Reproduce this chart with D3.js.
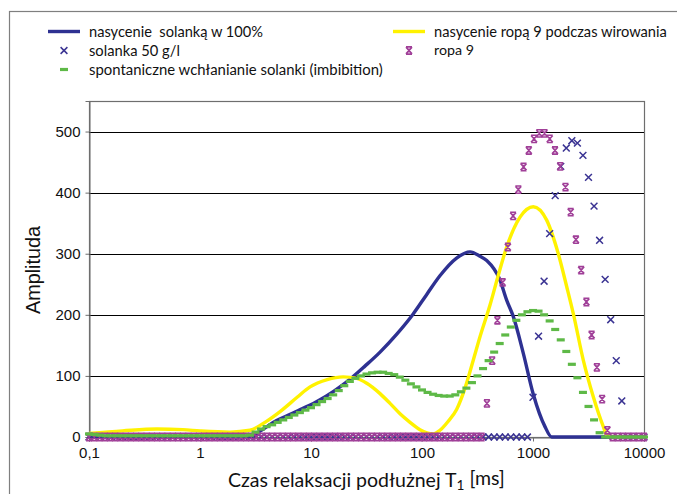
<!DOCTYPE html>
<html>
<head>
<meta charset="utf-8">
<script src="https://cdn.jsdelivr.net/npm/d3@7/dist/d3.min.js"></script>
<style>
  html, body { margin: 0; padding: 0; background: #fff; }
  svg { display: block; }
</style>
</head>
<body>
<svg id="chart" width="677" height="494"></svg>
<script>
// ---- Data -------------------------------------------------------------
// T1 relaxation-time sampling grids (ms): log-spaced inversion grids
const gridRange = [0.1, 10000];
const gridSizeA = 101;   // 20 points per decade (solanka, imbibition)
const gridSizeB = 107;   // ropa 9 grid

// solanka 50 g/l, amplitudes on grid A
const solanka50 = [
  0,0,0,0,0,0,0,0,0,0, 0,0,0,0,0,0,0,0,0,0,
  0,0,0,0,0,0,0,0,0,0, 0,0,0,0,0,0,0,0,0,0,
  0,0,0,0,0,0,0,0,0,0, 0,0,0,0,0,0,0,0,0,0,
  0,0,0,0,0,0,0,0,0,0, 0,0,0,0,0,0,0,0,0,0,
  65,165,255,333,395,443,473,485,481,461,
  425,378,322,258,192,125,59,0,0,0,0
];

// ropa 9, amplitudes on grid B
const ropa9 = [
  0,0,0,0,0,0,0,0,0,0, 0,0,0,0,0,0,0,0,0,0,
  0,0,0,0,0,0,0,0,0,0, 0,0,0,0,0,0,0,0,0,0,
  0,0,0,0,0,0,0,0,0,0, 0,0,0,0,0,0,0,0,0,0,
  0,0,0,0,0,0,0,0,0,0, 0,0,0,0,0,0,
  55,125,191,253,311,362,405,442,469,488,497,497,
  488,469,443,409,368,323,273,221,167,114,62,11,
  0,0,0,0,0,0,0
];

// spontaneous imbibition, amplitudes on grid A
const imbibition = [
  5,4,3,2,2,2,2,2,2,2, 2,2,2,2,2,2,2,2,2,2,
  2,2,2,2,2,2,2,2,2,3, 8,13,17,20,24,28,32,36,40,44,
  48,53,58,63,69,76,84,91,96,100, 103,105,106,106,104,102,98,93,87,82,
  77,73,70,68,67,67,69,74,80,89, 100,112,125,139,153,167,180,191,200,205,
  207,206,200,190,176,159,140,119,97,73, 50,28,7,0,0,0,0,0,0,0,
  0
];

// full brine saturation curve: [T1 ms, amplitude]
const brineSaturation = [
  [0.1,2],[0.15,0],[2.8,0],[3.5,10],[4.9,27],[6.5,37],[8,45],[10.5,55],
  [13.8,67],[18.25,82],[23.3,97],[30.6,116],[41.9,139],[59,168],[83,201],
  [110,233],[145,264],[205,293],[271,303],[333,296],[383,289],[504,257],
  [579,224],[665,197],[818,137],[1006,70],[1282,17],[1473,0],[4450,0],[10000,0]
];

// oil (ropa 9) saturation after centrifuging: [T1 ms, amplitude]
const oilSaturation = [
  [0.1,6],[0.2,10],[0.41,13],[0.7,12],[1.0,10],[1.86,8],[2.82,11],[4.0,26],
  [5.3,42],[7.5,65],[9.8,82],[14,94],[19.5,98.5],[25.8,96],[31.8,88],
  [41.9,71],[51.5,55],[63.4,38],[78,24],[95.9,12],[126,5],[145,11],
  [171,25],[205,45],[244,80],[290,126],[333,164],[410,216],[484,263],
  [579,311],[764,360],[1006,377],[1328,355],[1690,300],[2013,246],
  [2307,202],[2838,126],[3493,66],[4300,17],[4613,3],[5480,0],[10000,0]
];

const yTicks = [0, 100, 200, 300, 400, 500];
const xTicks = [0.1, 1, 10, 100, 1000, 10000];
const xTickLabels = ["0,1", "1", "10", "100", "1000", "10000"];

const legendItems = [
  { label: "nasycenie  solanką w 100%", kind: "line", color: "#2E3192", col: 0, row: 0, width: 174 },
  { label: "nasycenie ropą 9 podczas wirowania", kind: "line", color: "#FFF200", col: 1, row: 0, width: 233 },
  { label: "solanka 50 g/l", kind: "cross", color: "#3B3493", col: 0, row: 1, width: 91 },
  { label: "ropa 9", kind: "star", color: "#A03F98", col: 1, row: 1, width: 40 },
  { label: "spontaniczne wchłanianie solanki (imbibition)", kind: "dash", color: "#5EB947", col: 0, row: 2, width: 294 }
];

// ---- Layout -----------------------------------------------------------
const plot = { left: 89, right: 644, top: 101, bottom: 437 };
const svg = d3.select("#chart");

const x = d3.scaleLog().domain([0.1, 10000]).range([plot.left, plot.right]);
const y = d3.scaleLinear().domain([0, 550]).range([plot.bottom, plot.top]);

const logGrid = n => d3.range(n).map(i =>
  gridRange[0] * Math.pow(gridRange[1] / gridRange[0], i / (n - 1)));
const gridA = logGrid(gridSizeA);
const gridB = logGrid(gridSizeB);

// marker shapes
const crossPath = "M-3.4,-3.4L3.4,3.4M-3.4,3.4L3.4,-3.4";
const starPath = "M-3,-3.4L3,3.4M-3,3.4L3,-3.4M-3,-3.6L3,-3.6M-3,3.6L3,3.6M0,-2L0,2";

// outer frame
svg.append("rect")
  .attr("x", 9.5).attr("y", 11.5)
  .attr("width", 720).attr("height", 520)
  .attr("fill", "none").attr("stroke", "#7f7f7f").attr("stroke-width", 1.2);

// plot area border
svg.append("rect")
  .attr("x", plot.left + 0.5).attr("y", plot.top + 0.5)
  .attr("width", plot.right - plot.left).attr("height", plot.bottom - plot.top)
  .attr("fill", "none").attr("stroke", "#6e6e6e").attr("stroke-width", 1.2);

// horizontal gridlines
svg.append("g").selectAll("line")
  .data(yTicks.filter(d => d > 0))
  .join("line")
  .attr("x1", plot.left).attr("x2", plot.right)
  .attr("y1", d => Math.round(y(d)) + 0.5).attr("y2", d => Math.round(y(d)) + 0.5)
  .attr("stroke", "#000").attr("stroke-width", 1.1);

// y axis
const yAxis = d3.axisLeft(y).tickValues(yTicks).tickSize(4).tickPadding(5);
const gy = svg.append("g")
  .attr("transform", `translate(${plot.left + 0.5},0)`)
  .call(yAxis);
gy.select(".domain").attr("stroke", "#6e6e6e");
gy.selectAll(".tick line").attr("stroke", "#6e6e6e");
gy.selectAll(".tick text")
  .attr("font-family", "'Liberation Sans', Arial, sans-serif")
  .attr("font-size", 15).attr("fill", "#111");

// x axis
const xAxis = d3.axisBottom(x).tickValues(xTicks)
  .tickFormat((d, i) => xTickLabels[i]).tickSize(4).tickPadding(6);
const gx = svg.append("g")
  .attr("transform", `translate(0,${plot.bottom + 0.5})`)
  .call(xAxis);
gx.select(".domain").attr("stroke", "#6e6e6e");
gx.selectAll(".tick line").attr("stroke", "#6e6e6e");
gx.selectAll(".tick text")
  .attr("font-family", "'Liberation Sans', Arial, sans-serif")
  .attr("font-size", 15).attr("fill", "#111");

// ---- Series ----------------------------------------------------------
const line = d3.line()
  .x(d => x(d[0])).y(d => y(d[1]))
  .curve(d3.curveMonotoneX);

svg.append("path")
  .datum(brineSaturation)
  .attr("d", line)
  .attr("fill", "none").attr("stroke", "#2E3192").attr("stroke-width", 3.4)
  .attr("stroke-linejoin", "round");

svg.append("path")
  .datum(oilSaturation)
  .attr("d", line)
  .attr("fill", "none").attr("stroke", "#FFF200").attr("stroke-width", 3.4)
  .attr("stroke-linejoin", "round");

svg.append("g").selectAll("path")
  .data(solanka50.map((v, i) => [gridA[i], v]))
  .join("path")
  .attr("d", crossPath)
  .attr("transform", d => `translate(${x(d[0])},${y(d[1])})`)
  .attr("fill", "none").attr("stroke", "#3B3493").attr("stroke-width", 1.5);

svg.append("g").selectAll("path")
  .data(ropa9.map((v, i) => [gridB[i], v]))
  .join("path")
  .attr("d", starPath)
  .attr("transform", d => `translate(${x(d[0])},${y(d[1])})`)
  .attr("fill", "none").attr("stroke", "#A03F98").attr("stroke-width", 1.6);

svg.append("g").selectAll("rect")
  .data(imbibition.map((v, i) => [gridA[i], v]))
  .join("rect")
  .attr("x", d => x(d[0]) - 4).attr("y", d => y(d[1]) - 1.6)
  .attr("width", 8).attr("height", 3.2)
  .attr("fill", "#5EB947");

// ---- Text helpers ----------------------------------------------------
function fitWidth(sel, target) {
  const w = sel.node().getComputedTextLength();
  const fs = parseFloat(sel.attr("font-size"));
  if (w > 0 && target > 0) sel.attr("font-size", (fs * target / w).toFixed(2));
}

// ---- Legend ----------------------------------------------------------
const legendCols = [{ sym: 64, text: 89 }, { sym: 409, text: 434 }];
const legendRows = [31.5, 50.5, 69.5];

const lg = svg.append("g");
legendItems.forEach(item => {
  const col = legendCols[item.col];
  const cy = legendRows[item.row];
  if (item.kind === "line") {
    lg.append("line")
      .attr("x1", col.sym - 16).attr("x2", col.sym + 16)
      .attr("y1", cy).attr("y2", cy)
      .attr("stroke", item.color).attr("stroke-width", 3.4);
  } else if (item.kind === "cross") {
    lg.append("path").attr("d", crossPath)
      .attr("transform", `translate(${col.sym},${cy})`)
      .attr("fill", "none").attr("stroke", item.color).attr("stroke-width", 1.5);
  } else if (item.kind === "star") {
    lg.append("path").attr("d", starPath)
      .attr("transform", `translate(${col.sym},${cy})`)
      .attr("fill", "none").attr("stroke", item.color).attr("stroke-width", 1.6);
  } else {
    lg.append("rect")
      .attr("x", col.sym - 4).attr("y", cy - 1.6)
      .attr("width", 8).attr("height", 3.2).attr("fill", item.color);
  }
  const t = lg.append("text")
    .attr("x", col.text).attr("y", cy)
    .attr("dy", "0.35em")
    .attr("font-family", "Lato, 'Open Sans', sans-serif")
    .attr("font-size", 15).attr("fill", "#111")
    .attr("xml:space", "preserve")
    .style("white-space", "pre")
    .text(item.label);
  fitWidth(t, item.width);
});

// ---- Axis titles -----------------------------------------------------
const yTitle = svg.append("text")
  .attr("transform", `translate(33,${(plot.top + plot.bottom) / 2 + 1}) rotate(-90)`)
  .attr("text-anchor", "middle")
  .attr("dy", "0.35em")
  .attr("font-family", "'Liberation Sans', Arial, sans-serif")
  .attr("font-size", 19).attr("fill", "#111")
  .text("Amplituda");
fitWidth(yTitle, 88);

const xTitle = svg.append("text")
  .attr("x", 228).attr("y", 480)
  .attr("dy", "0.35em")
  .attr("font-family", "Lato, 'Open Sans', sans-serif")
  .attr("font-size", 19).attr("fill", "#111");
xTitle.append("tspan").text("Czas relaksacji podłużnej T");
xTitle.append("tspan").attr("font-size", "0.7em").attr("dy", "0.25em").text("1");
xTitle.append("tspan").attr("dy", "-0.25em").text(" [ms]");
fitWidth(xTitle, 277);
</script>
</body>
</html>
